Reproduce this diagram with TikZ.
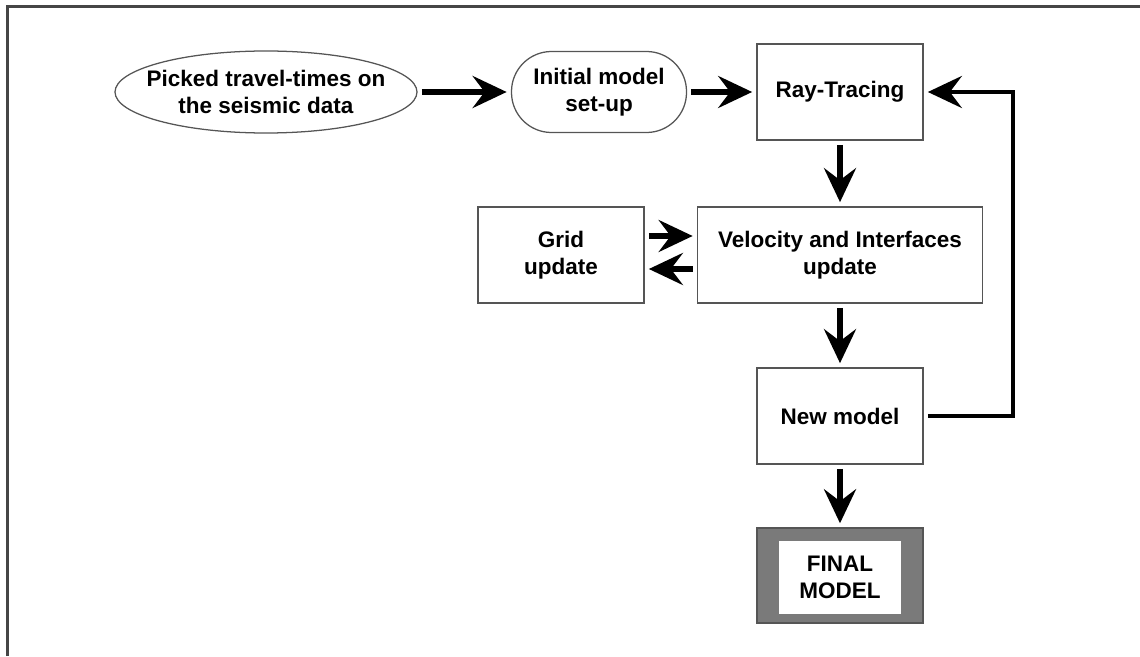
\documentclass[tikz,border=0pt]{standalone}
\usepackage{tikz}
\usetikzlibrary{shapes.geometric, arrows.meta, positioning}
\usepackage{fontspec}
\setmainfont{Liberation Sans}
\definecolor{framegray}{RGB}{70, 70, 70}
\definecolor{edgegray}{RGB}{85, 85, 85}
\definecolor{finalgray}{RGB}{122, 122, 122}

\begin{document}
\begin{tikzpicture}[
  box/.style={draw=edgegray, line width=0.9pt, fill=white, minimum width=4.15cm, minimum height=2.4cm, align=center, inner sep=0pt},
  flow/.style={line width=3.6pt, -{Stealth[length=0.85cm, width=0.8cm, inset=0.3cm]}, shorten <=3pt, shorten >=3pt},
  font=\bfseries\fontsize{16}{19}\selectfont
]
  \useasboundingbox (0,0) rectangle (28.5,-16.4);

  % Frame
  \draw[framegray, line width=1.5pt] (0.1875,-16.4) |- (28.5,-0.1625);

  % Input and start model
  \node[ellipse, draw=edgegray, line width=0.9pt, minimum width=7.55cm, minimum height=2.05cm, inner xsep=-1cm, inner ysep=-0.5cm, align=center] (picked) at (6.65, -2.3) {Picked travel-times on\\the seismic data};
  \node[draw=edgegray, line width=0.9pt, rounded corners=1cm, minimum width=4.375cm, minimum height=2.025cm, align=center, inner sep=0pt] (initial) at (14.975, -2.3) {Initial model\\set-up};

  % Inversion loop
  \node[box] (ray) at (21.0, -2.3) {Ray-Tracing};
  \node[box] (grid) at (14.025, -6.375) {Grid\\update};
  \node[box, minimum width=7.125cm] (vel) at (21.0, -6.375) {Velocity and Interfaces\\update};
  \node[box] (new) at (21.0, -10.4) {New model};

  % Result
  \node[box, fill=finalgray, minimum height=2.375cm] (final) at (21.0, -14.39) {};
  \node[fill=white, minimum width=3.05cm, minimum height=1.825cm, align=center, inner sep=0pt] (finaltxt) at (21.0, -14.44) {FINAL\\MODEL};

  % Connections
  \draw[flow] (picked) -- (initial);
  \draw[flow] (initial) -- (ray);
  \draw[flow] (ray) -- (vel);
  \draw[flow] ([yshift=0.475cm]grid.east) -- ([yshift=0.475cm]vel.west);
  \draw[flow] ([yshift=-0.35cm]vel.west) -- ([yshift=-0.35cm]grid.east);
  \draw[flow] (vel) -- (new);
  \draw[flow] (new) -- (final);
  \coordinate (loopback) at (25.325, -6);
  \draw[flow, line width=3.2pt] (new.east) -| (loopback) |- (ray.east);
\end{tikzpicture}
\end{document}
